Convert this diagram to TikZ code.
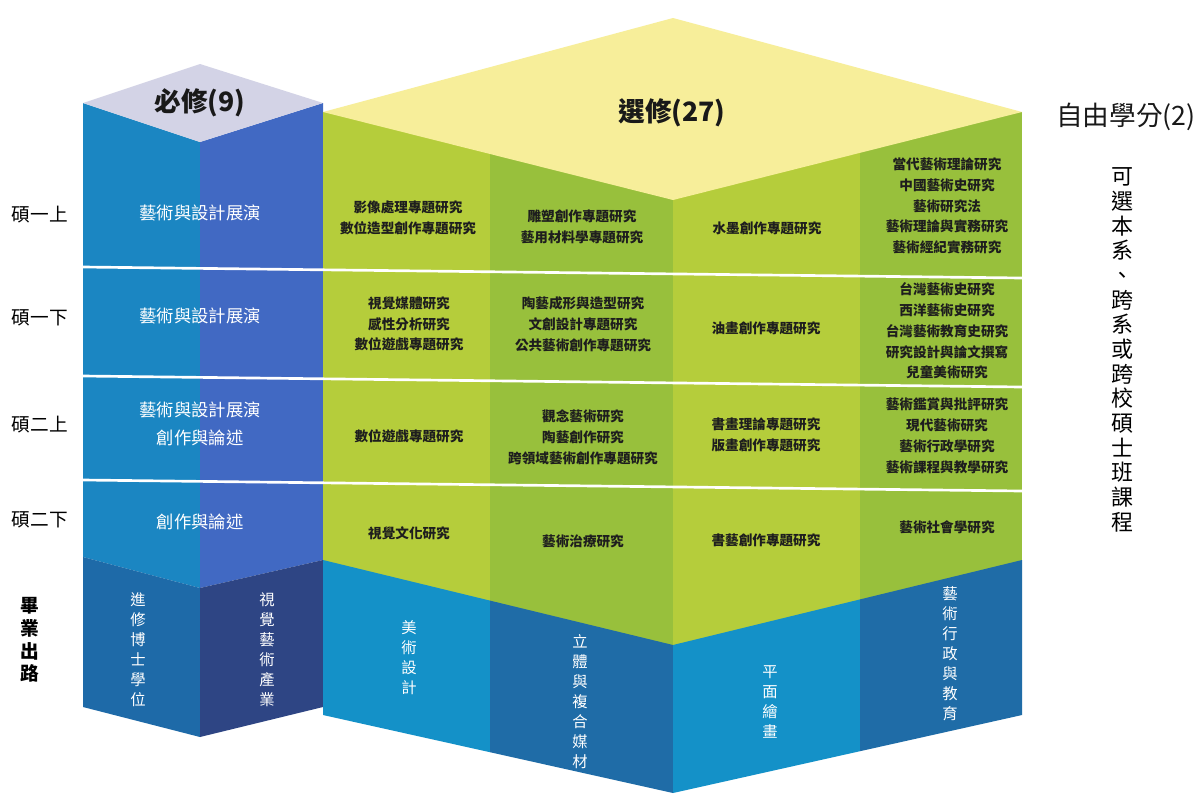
\documentclass[tikz,border=0pt]{standalone}
\usepackage{fontspec}
\newfontfamily\cjk{Noto Sans CJK TC}
\definecolor{capL}{RGB}{211,211,230}
\definecolor{bUL}{RGB}{27,134,194}
\definecolor{bUR}{RGB}{65,105,195}
\definecolor{bLL}{RGB}{30,106,168}
\definecolor{bLR}{RGB}{46,69,132}
\definecolor{capY}{RGB}{247,238,154}
\definecolor{gL}{RGB}{181,205,59}
\definecolor{gD}{RGB}{152,192,60}
\definecolor{blL}{RGB}{20,145,200}
\definecolor{blD}{RGB}{31,108,167}
\definecolor{txt}{RGB}{30,30,30}
\tikzset{
  cell/.style={font=\cjk\bfseries\fontsize{10.2}{15.6}\selectfont, align=center, text=txt, inner sep=0pt},
  wcell/.style={font=\cjk\fontsize{13}{21}\selectfont, align=center, text=white, inner sep=0pt},
  vtext/.style={font=\cjk\fontsize{11.5}{15}\selectfont, align=center, text=white, inner sep=0pt},
  rowlab/.style={font=\cjk\fontsize{14}{16}\selectfont, text=black, inner sep=0pt},
  head/.style={font=\cjk\fontsize{20}{22}\selectfont, text=black!90, inner sep=0pt},
  sepline/.style={white, line width=2pt},
}
\begin{document}
\begin{tikzpicture}[x=0.75pt,y=-0.75pt]
\useasboundingbox[fill=white] (0,0) rectangle (1198,793);
% ---------- left block (required) ----------
\fill[bUL] (83,103) -- (200,142) -- (200,588) -- (83,557) -- cycle;
\fill[bUR] (200,142) -- (323,103) -- (323,560) -- (200,588) -- cycle;
\fill[bLL] (83,557) -- (200,588) -- (200,737) -- (83,707) -- cycle;
\fill[bLR] (200,588) -- (323,560) -- (323,707) -- (200,737) -- cycle;
\fill[capL] (83,103) -- (200,64) -- (323,103) -- (200,142) -- cycle;
% ---------- right block (electives) ----------
\fill[gL] (323,112) rectangle (490,602);
\fill[gD] (490,112) rectangle (673,646);
\fill[gL] (673,112) rectangle (860,646);
\fill[gD] (860,112) rectangle (1022,601);
\fill[blL] (323,560) -- (490,600.6) -- (490,752.2) -- (323,715) -- cycle;
\fill[blD] (490,600.6) -- (673,645) -- (673,793) -- (490,752.2) -- cycle;
\fill[blL] (673,645) -- (860,599.4) -- (860,751.2) -- (673,793) -- cycle;
\fill[blD] (860,599.4) -- (1022,560) -- (1022,715) -- (860,751.2) -- cycle;
\fill[capY] (323,112) -- (673,18) -- (1022,112) -- (673,200) -- cycle;
% ---------- row separators ----------
\draw[sepline] (83,267) -- (1022,278);
\draw[sepline] (83,376) -- (1022,387);
\draw[sepline] (83,480) -- (1022,491);
% ---------- headers ----------
\node[head, font=\cjk\bfseries\fontsize{20}{22}\selectfont] (hreq) at (200,103) {必修(9)};
\node[head, font=\cjk\bfseries\fontsize{20}{22}\selectfont] (hele) at (672,113) {選修(27)};
\node[head] (hfree) at (1126,117) {自由學分(2)};
\node[font=\cjk\fontsize{16.5}{18.5}\selectfont, align=center, inner sep=0pt] (free) at (1122,350)
  {可\\選\\本\\系\\、\\跨\\系\\或\\跨\\校\\碩\\士\\班\\課\\程};
% ---------- row labels ----------
\node[rowlab] (r1) at (40,215) {碩一上};
\node[rowlab] (r2) at (40,318) {碩一下};
\node[rowlab] (r3) at (40,425) {碩二上};
\node[rowlab] (r4) at (40,520) {碩二下};
\node[font=\cjk\bfseries\fontsize{14}{17}\selectfont, align=center, inner sep=0pt] (r5) at (30,640) {畢\\業\\出\\路};
% ---------- required courses ----------
\node[wcell] (q1) at (200,213) {藝術與設計展演};
\node[wcell] (q2) at (200,316) {藝術與設計展演};
\node[wcell] (q3) at (200,424) {藝術與設計展演\\創作與論述};
\node[wcell] (q4) at (200,522) {創作與論述};
\node[vtext] (c1) at (138,650) {進\\修\\博\\士\\學\\位};
\node[vtext] (c2) at (267,650) {視\\覺\\藝\\術\\產\\業};
% ---------- electives row 1 ----------
\node[cell] (a11) at (408,218) {影像處理專題研究\\數位造型創作專題研究};
\node[cell] (a12) at (582,227) {雕塑創作專題研究\\藝用材料學專題研究};
\node[cell] (a13) at (767,228) {水墨創作專題研究};
\node[cell] (a14) at (947,206) {當代藝術理論研究\\中國藝術史研究\\藝術研究法\\藝術理論與實務研究\\藝術經紀實務研究};
% ---------- row 2 ----------
\node[cell] (a21) at (409,324) {視覺媒體研究\\感性分析研究\\數位遊戲專題研究};
\node[cell] (a22) at (583,324) {陶藝成形與造型研究\\文創設計專題研究\\公共藝術創作專題研究};
\node[cell] (a23) at (766,328) {油畫創作專題研究};
\node[cell] (a24) at (947,331) {台灣藝術史研究\\西洋藝術史研究\\台灣藝術教育史研究\\研究設計與論文撰寫\\兒童美術研究};
% ---------- row 3 ----------
\node[cell] (a31) at (409,436) {數位遊戲專題研究};
\node[cell] (a32) at (583,437) {觀念藝術研究\\陶藝創作研究\\跨領域藝術創作專題研究};
\node[cell] (a33) at (766,435) {書畫理論專題研究\\版畫創作專題研究};
\node[cell] (a34) at (947,436) {藝術鑑賞與批評研究\\現代藝術研究\\藝術行政學研究\\藝術課程與教學研究};
% ---------- row 4 ----------
\node[cell] (a41) at (409,533) {視覺文化研究};
\node[cell] (a42) at (583,541) {藝術治療研究};
\node[cell] (a43) at (766,540) {書藝創作專題研究};
\node[cell] (a44) at (947,527) {藝術社會學研究};
% ---------- careers ----------
\node[vtext] (d1) at (409,658) {美\\術\\設\\計};
\node[vtext] (d2) at (580,702) {立\\體\\與\\複\\合\\媒\\材};
\node[vtext] (d3) at (770,702) {平\\面\\繪\\畫};
\node[vtext] (d4) at (950,654) {藝\\術\\行\\政\\與\\教\\育};
\end{tikzpicture}
\end{document}
